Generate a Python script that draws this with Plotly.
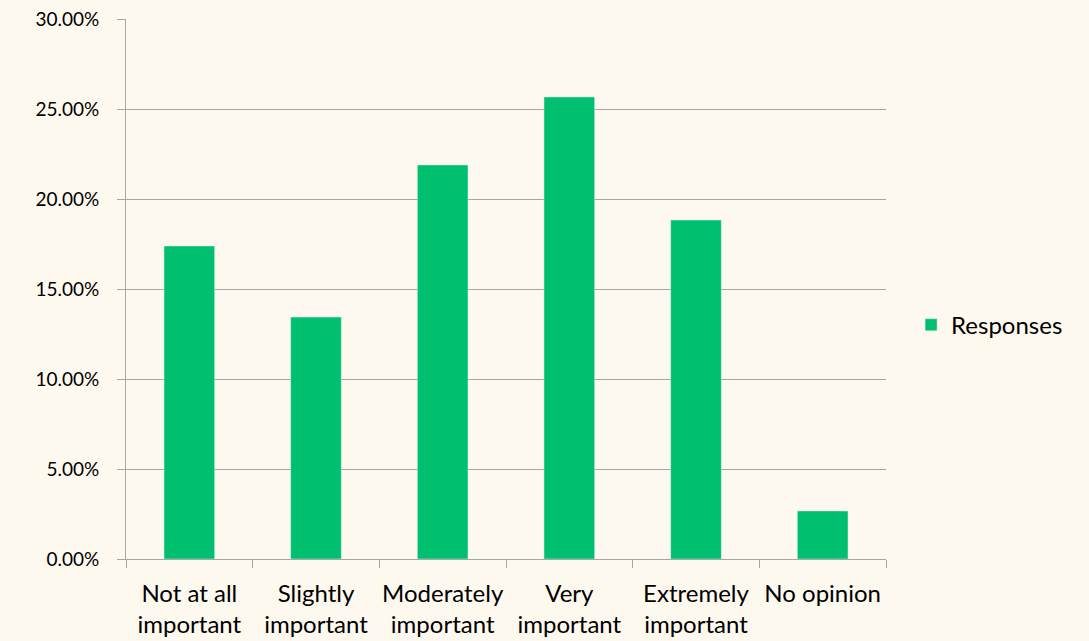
import plotly.graph_objects as go

categories = [
    "Not at all<br>important",
    "Slightly<br>important",
    "Moderately<br>important",
    "Very<br>important",
    "Extremely<br>important",
    "No opinion",
]
responses = [0.1739, 0.1344, 0.2189, 0.2567, 0.1883, 0.0267]
y_ticks = [0, 0.05, 0.10, 0.15, 0.20, 0.25, 0.30]

bg = "#FEF9EF"
grid = "#A6A6A6"

fig = go.Figure(
    go.Bar(
        x=categories,
        y=responses,
        name="Responses",
        marker_color="#00BF6F",
        showlegend=True,
        hoverinfo="skip",
    )
)

fig.update_layout(
    width=1089,
    height=641,
    paper_bgcolor=bg,
    plot_bgcolor=bg,
    margin=dict(l=126, r=203, t=19, b=82),
    bargap=0.6,
    font=dict(family="Lato, Open Sans, sans-serif", size=20, color="#000000"),
    legend=dict(
        x=1.033,
        y=0.433,
        xanchor="left",
        yanchor="middle",
        bgcolor="rgba(0,0,0,0)",
        font=dict(size=24),
    ),
)

fig.update_xaxes(
    showline=True,
    linecolor=grid,
    linewidth=1,
    ticks="outside",
    tickson="boundaries",
    ticklen=8,
    tickcolor=grid,
    showgrid=False,
    tickangle=0,
    tickfont=dict(size=24),
    ticklabelstandoff=13,
    automargin=False,
)
fig.update_yaxes(
    range=[0, 0.30],
    tickvals=y_ticks,
    tickformat=".2%",
    showline=True,
    linecolor=grid,
    linewidth=1,
    ticks="outside",
    ticklen=8,
    tickcolor=grid,
    gridcolor=grid,
    gridwidth=1,
    zeroline=False,
    tickfont=dict(size=19),
    ticklabelstandoff=14,
    automargin=False,
)

# page body has a default 8px margin; drop it so the figure fills the window
fig.write_html(
    "out.html",
    config={"displayModeBar": False},
    post_script="document.body.style.margin='0';document.body.style.background='#FEF9EF';",
)
